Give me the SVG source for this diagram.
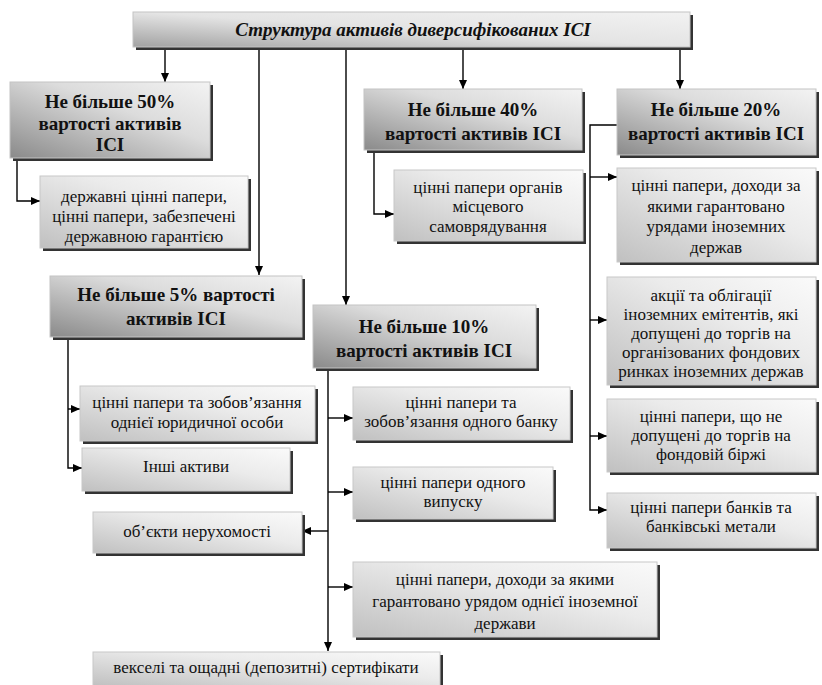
<svg xmlns="http://www.w3.org/2000/svg" width="822" height="685" viewBox="0 0 822 685">
<defs>
<linearGradient id="gHead" x1="0" y1="1" x2="1" y2="0">
<stop offset="0" stop-color="#8a8a8a"/>
<stop offset="0.6" stop-color="#dcdcdc"/>
<stop offset="1" stop-color="#f3f3f3"/>
</linearGradient>
<linearGradient id="gChild" x1="0" y1="1" x2="1" y2="0">
<stop offset="0" stop-color="#c0c0c0"/>
<stop offset="0.6" stop-color="#ebebeb"/>
<stop offset="1" stop-color="#fafafa"/>
</linearGradient>
<linearGradient id="gTitle" x1="0" y1="1" x2="1" y2="0">
<stop offset="0" stop-color="#a2a2a2"/>
<stop offset="0.5" stop-color="#e4e4e4"/>
<stop offset="1" stop-color="#f2f2f2"/>
</linearGradient>
<marker id="arr" markerUnits="userSpaceOnUse" markerWidth="10" markerHeight="8" refX="9" refY="4" orient="auto">
<path d="M0,0 L9,4 L0,8 z" fill="#000"/>
</marker>
<style>
.sh{fill:#333}
.hd{fill:url(#gHead);stroke:#c4c4c4;stroke-width:1}
.ch{fill:url(#gChild);stroke:#c8c8c8;stroke-width:1}
.ti{fill:url(#gTitle);stroke:#c4c4c4;stroke-width:1}
text{font-family:'Liberation Serif','Times New Roman',serif;fill:#111;text-anchor:middle}
.ht{font-weight:bold;font-size:19px}
.tt{font-weight:bold;font-style:italic;font-size:19px}
.ct{font-size:17px}
.ln{fill:none;stroke:#000;stroke-width:1.4}
</style>
</defs>

<g id="connectors">
<path class="ln" d="M165,48 V82" marker-end="url(#arr)"/>
<path class="ln" d="M259,48 V275" marker-end="url(#arr)"/>
<path class="ln" d="M346,48 V305" marker-end="url(#arr)"/>
<path class="ln" d="M463,48 V89" marker-end="url(#arr)"/>
<path class="ln" d="M680,48 V89" marker-end="url(#arr)"/>
<path class="ln" d="M17,158 V201 H40" marker-end="url(#arr)"/>
<path class="ln" d="M374,151 V214 H394" marker-end="url(#arr)"/>
<path class="ln" d="M617,125 H590 V510 H607" marker-end="url(#arr)"/>
<path class="ln" d="M590,177 H617" marker-end="url(#arr)"/>
<path class="ln" d="M590,320 H607" marker-end="url(#arr)"/>
<path class="ln" d="M590,436 H607" marker-end="url(#arr)"/>
<path class="ln" d="M68,338 V468 H82" marker-end="url(#arr)"/>
<path class="ln" d="M68,409 H80" marker-end="url(#arr)"/>
<path class="ln" d="M328,369 V651" marker-end="url(#arr)"/>
<path class="ln" d="M328,418 H353" marker-end="url(#arr)"/>
<path class="ln" d="M328,492 H353" marker-end="url(#arr)"/>
<path class="ln" d="M328,587 H353" marker-end="url(#arr)"/>
<path class="ln" d="M328,531 H302" marker-end="url(#arr)"/>
</g>

<g id="title">
<rect class="sh" x="136" y="15" width="557" height="35"/>
<rect class="ti" x="133" y="12" width="557" height="35"/>
<text class="tt" x="413" y="36">Структура активів диверсифікованих ІСІ</text>
</g>

<g id="n50">
<rect class="sh" x="13" y="85" width="200" height="76"/>
<rect class="hd" x="10" y="82" width="200" height="76"/>
<text class="ht" x="110" y="108">Не більше 50%</text>
<text class="ht" x="110" y="130">вартості активів</text>
<text class="ht" x="110" y="151">ІСІ</text>
</g>
<g id="n50c">
<rect class="sh" x="43" y="179" width="208" height="72"/>
<rect class="ch" x="40" y="176" width="208" height="72"/>
<text class="ct" x="144" y="202">державні цінні папери,</text>
<text class="ct" x="144" y="222">цінні папери, забезпечені</text>
<text class="ct" x="144" y="242">державною гарантією</text>
</g>

<g id="n40">
<rect class="sh" x="367" y="92" width="218" height="61"/>
<rect class="hd" x="364" y="89" width="218" height="61"/>
<text class="ht" x="473" y="116">Не більше 40%</text>
<text class="ht" x="473" y="140">вартості активів ІСІ</text>
</g>
<g id="n40c">
<rect class="sh" x="397" y="173" width="189" height="71"/>
<rect class="ch" x="394" y="170" width="189" height="71"/>
<text class="ct" x="488" y="193">цінні папери органів</text>
<text class="ct" x="488" y="212">місцевого</text>
<text class="ct" x="488" y="232">самоврядування</text>
</g>

<g id="n20">
<rect class="sh" x="620" y="92" width="199" height="66"/>
<rect class="hd" x="617" y="89" width="199" height="66"/>
<text class="ht" x="716" y="116">Не більше 20%</text>
<text class="ht" x="716" y="140">вартості активів ІСІ</text>
</g>
<g id="n20c1">
<rect class="sh" x="620" y="171" width="199" height="94"/>
<rect class="ch" x="617" y="168" width="199" height="94"/>
<text class="ct" x="716" y="191">цінні папери, доходи за</text>
<text class="ct" x="716" y="212">якими гарантовано</text>
<text class="ct" x="716" y="232">урядами іноземних</text>
<text class="ct" x="716" y="253">держав</text>
</g>
<g id="n20c2">
<rect class="sh" x="610" y="280" width="209" height="108"/>
<rect class="ch" x="607" y="277" width="209" height="108"/>
<text class="ct" x="711" y="301">акції та облігації</text>
<text class="ct" x="711" y="320">іноземних емітентів, які</text>
<text class="ct" x="711" y="339">допущені до торгів на</text>
<text class="ct" x="711" y="358">організованих фондових</text>
<text class="ct" x="711" y="377">ринках іноземних держав</text>
</g>
<g id="n20c3">
<rect class="sh" x="610" y="402" width="209" height="73"/>
<rect class="ch" x="607" y="399" width="209" height="73"/>
<text class="ct" x="711" y="422">цінні папери, що не</text>
<text class="ct" x="711" y="441">допущені до торгів на</text>
<text class="ct" x="711" y="460">фондовій біржі</text>
</g>
<g id="n20c4">
<rect class="sh" x="610" y="496" width="209" height="55"/>
<rect class="ch" x="607" y="493" width="209" height="55"/>
<text class="ct" x="711" y="513">цінні папери банків та</text>
<text class="ct" x="711" y="532">банківські метали</text>
</g>

<g id="n5">
<rect class="sh" x="53" y="279" width="252" height="61"/>
<rect class="hd" x="50" y="276" width="252" height="61"/>
<text class="ht" x="176" y="301">Не більше 5% вартості</text>
<text class="ht" x="176" y="325">активів ІСІ</text>
</g>
<g id="n5c1">
<rect class="sh" x="83" y="389" width="235" height="55"/>
<rect class="ch" x="80" y="386" width="235" height="55"/>
<text class="ct" x="197" y="408">цінні папери та зобов’язання</text>
<text class="ct" x="197" y="428">однієї юридичної особи</text>
</g>
<g id="n5c2">
<rect class="sh" x="85" y="451" width="208" height="43"/>
<rect class="ch" x="82" y="448" width="208" height="43"/>
<text class="ct" x="186" y="472">Інші активи</text>
</g>

<g id="n10">
<rect class="sh" x="316" y="308" width="223" height="63"/>
<rect class="hd" x="313" y="305" width="223" height="63"/>
<text class="ht" x="424" y="333">Не більше 10%</text>
<text class="ht" x="424" y="357">вартості активів ІСІ</text>
</g>
<g id="n10c1">
<rect class="sh" x="356" y="390" width="217" height="53"/>
<rect class="ch" x="353" y="387" width="217" height="53"/>
<text class="ct" x="461" y="408">цінні папери та</text>
<text class="ct" x="461" y="427">зобов’язання одного банку</text>
</g>
<g id="n10c2">
<rect class="sh" x="356" y="470" width="200" height="52"/>
<rect class="ch" x="353" y="467" width="200" height="52"/>
<text class="ct" x="453" y="488">цінні папери одного</text>
<text class="ct" x="453" y="507">випуску</text>
</g>
<g id="n10c3">
<rect class="sh" x="356" y="565" width="304" height="75"/>
<rect class="ch" x="353" y="562" width="304" height="75"/>
<text class="ct" x="505" y="585">цінні папери, доходи за якими</text>
<text class="ct" x="505" y="607">гарантовано урядом однієї іноземної</text>
<text class="ct" x="505" y="629">держави</text>
</g>
<g id="n10c4">
<rect class="sh" x="96" y="515" width="209" height="41"/>
<rect class="ch" x="93" y="512" width="209" height="41"/>
<text class="ct" x="197" y="537">об’єкти нерухомості</text>
</g>
<g id="n10c5">
<rect class="sh" x="96" y="655" width="347" height="34"/>
<rect class="ch" x="93" y="652" width="347" height="34"/>
<text class="ct" x="266" y="673">векселі та ощадні (депозитні) сертифікати</text>
</g>
</svg>
